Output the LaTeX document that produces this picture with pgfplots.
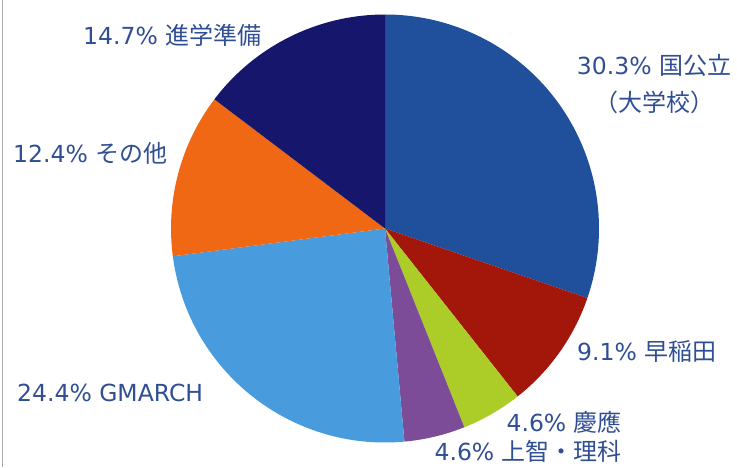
\documentclass[border=0pt]{standalone}
\usepackage{pgfplots}
\pgfplotsset{compat=1.18}
\usepackage{pgfplotstable}
\usepackage{fontspec}
\setmainfont{DejaVu Sans}
\newfontfamily\jp{Noto Sans CJK JP}
\definecolor{cA}{RGB}{32,80,156}
\definecolor{cB}{RGB}{163,22,10}
\definecolor{cC}{RGB}{172,204,40}
\definecolor{cD}{RGB}{124,76,152}
\definecolor{cE}{RGB}{72,156,222}
\definecolor{cF}{RGB}{240,104,20}
\definecolor{cG}{RGB}{22,22,108}
\definecolor{txt}{RGB}{48,78,148}
\newcommand{\J}[1]{{\jp\fontsize{24}{28}\selectfont #1}}
\pgfplotstableread{
share color
30.3 cA
9.1 cB
4.6 cC
4.6 cD
24.4 cE
12.4 cF
14.7 cG
}\piedata
\begin{document}
\begin{tikzpicture}
\begin{axis}[
  scale only axis, width=737pt, height=466pt,
  xmin=0, xmax=737, ymin=0, ymax=466,
  hide axis, clip=false,
]
\addplot[draw=none] coordinates {(0,0) (737,466)};
\pgfplotsextra{
  \path (axis cs:0,0) rectangle (axis cs:737,466);
  \draw[gray!65, line width=1pt] (axis cs:2,0) -- (axis cs:2,466);
  \gdef\startang{90}
  \foreach \i in {0,...,6}{
    \pgfplotstablegetelem{\i}{share}\of\piedata \let\s\pgfplotsretval
    \pgfplotstablegetelem{\i}{color}\of\piedata \let\c\pgfplotsretval
    \pgfmathsetmacro{\endang}{\startang-\s*360/100.1}
    \fill[\c] (axis cs:385,238) -- ++(\startang:214pt)
      arc[start angle=\startang, end angle=\endang, radius=214pt] -- cycle;
    \global\let\startang\endang
  }
  \begin{scope}[every node/.style={text=txt, font=\fontsize{23.5}{28}\selectfont, inner sep=0pt}]
    \node[anchor=west] at (axis cs:83,431) {14.7\% \J{進学準備}};
    \node[align=center, font=\fontsize{23.5}{37}\selectfont] at (axis cs:654,382) {30.3\% \J{国公立}\\\J{（大学校）}};
    \node[anchor=west] at (axis cs:13,313) {12.4\% \J{その他}};
    \node[anchor=west] at (axis cs:17,74) {24.4\% GMARCH};
    \node[anchor=west] at (axis cs:577,115) {9.1\% \J{早稲田}};
    \node[anchor=east] at (axis cs:622,44) {4.6\% \J{慶應}};
    \node[anchor=east] at (axis cs:622,15) {4.6\% \J{上智・理科}};
  \end{scope}
}
\end{axis}
\end{tikzpicture}
\end{document}
